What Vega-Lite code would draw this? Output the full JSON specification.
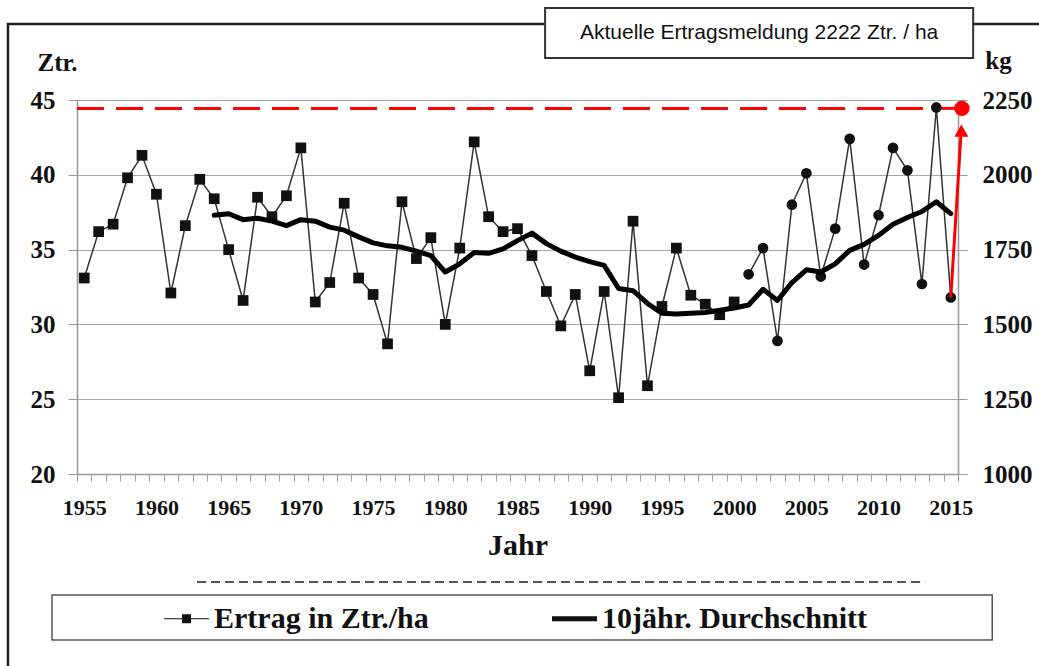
{
  "$schema": "https://vega.github.io/schema/vega-lite/v6.json",
  "width": 881,
  "height": 374,
  "autosize": {"type": "none"},
  "padding": {"left": 77, "top": 100, "right": 81, "bottom": 192},
  "background": "white",
  "config": {"view": {"stroke": null}},
  "datasets": {
    "ertrag": [
      {"Jahr": 1955, "Ertrag": 33.1, "Reihe": "A"},
      {"Jahr": 1956, "Ertrag": 36.2, "Reihe": "A"},
      {"Jahr": 1957, "Ertrag": 36.7, "Reihe": "A"},
      {"Jahr": 1958, "Ertrag": 39.8, "Reihe": "A"},
      {"Jahr": 1959, "Ertrag": 41.3, "Reihe": "A"},
      {"Jahr": 1960, "Ertrag": 38.7, "Reihe": "A"},
      {"Jahr": 1961, "Ertrag": 32.1, "Reihe": "A"},
      {"Jahr": 1962, "Ertrag": 36.6, "Reihe": "A"},
      {"Jahr": 1963, "Ertrag": 39.7, "Reihe": "A"},
      {"Jahr": 1964, "Ertrag": 38.4, "Reihe": "A"},
      {"Jahr": 1965, "Ertrag": 35.0, "Reihe": "A"},
      {"Jahr": 1966, "Ertrag": 31.6, "Reihe": "A"},
      {"Jahr": 1967, "Ertrag": 38.5, "Reihe": "A"},
      {"Jahr": 1968, "Ertrag": 37.2, "Reihe": "A"},
      {"Jahr": 1969, "Ertrag": 38.6, "Reihe": "A"},
      {"Jahr": 1970, "Ertrag": 41.8, "Reihe": "A"},
      {"Jahr": 1971, "Ertrag": 31.5, "Reihe": "A"},
      {"Jahr": 1972, "Ertrag": 32.8, "Reihe": "A"},
      {"Jahr": 1973, "Ertrag": 38.1, "Reihe": "A"},
      {"Jahr": 1974, "Ertrag": 33.1, "Reihe": "A"},
      {"Jahr": 1975, "Ertrag": 32.0, "Reihe": "A"},
      {"Jahr": 1976, "Ertrag": 28.7, "Reihe": "A"},
      {"Jahr": 1977, "Ertrag": 38.2, "Reihe": "A"},
      {"Jahr": 1978, "Ertrag": 34.4, "Reihe": "A"},
      {"Jahr": 1979, "Ertrag": 35.8, "Reihe": "A"},
      {"Jahr": 1980, "Ertrag": 30.0, "Reihe": "A"},
      {"Jahr": 1981, "Ertrag": 35.1, "Reihe": "A"},
      {"Jahr": 1982, "Ertrag": 42.2, "Reihe": "A"},
      {"Jahr": 1983, "Ertrag": 37.2, "Reihe": "A"},
      {"Jahr": 1984, "Ertrag": 36.2, "Reihe": "A"},
      {"Jahr": 1985, "Ertrag": 36.4, "Reihe": "A"},
      {"Jahr": 1986, "Ertrag": 34.6, "Reihe": "A"},
      {"Jahr": 1987, "Ertrag": 32.2, "Reihe": "A"},
      {"Jahr": 1988, "Ertrag": 29.9, "Reihe": "A"},
      {"Jahr": 1989, "Ertrag": 32.0, "Reihe": "A"},
      {"Jahr": 1990, "Ertrag": 26.9, "Reihe": "A"},
      {"Jahr": 1991, "Ertrag": 32.2, "Reihe": "A"},
      {"Jahr": 1992, "Ertrag": 25.1, "Reihe": "A"},
      {"Jahr": 1993, "Ertrag": 36.9, "Reihe": "A"},
      {"Jahr": 1994, "Ertrag": 25.9, "Reihe": "A"},
      {"Jahr": 1995, "Ertrag": 31.2, "Reihe": "A"},
      {"Jahr": 1996, "Ertrag": 35.1, "Reihe": "A"},
      {"Jahr": 1997, "Ertrag": 31.95, "Reihe": "A"},
      {"Jahr": 1998, "Ertrag": 31.35, "Reihe": "A"},
      {"Jahr": 1999, "Ertrag": 30.65, "Reihe": "A"},
      {"Jahr": 2000, "Ertrag": 31.5, "Reihe": "A"},
      {"Jahr": 2001, "Ertrag": 33.35, "Reihe": "B"},
      {"Jahr": 2002, "Ertrag": 35.1, "Reihe": "B"},
      {"Jahr": 2003, "Ertrag": 28.9, "Reihe": "B"},
      {"Jahr": 2004, "Ertrag": 38.0, "Reihe": "B"},
      {"Jahr": 2005, "Ertrag": 40.1, "Reihe": "B"},
      {"Jahr": 2006, "Ertrag": 33.2, "Reihe": "B"},
      {"Jahr": 2007, "Ertrag": 36.4, "Reihe": "B"},
      {"Jahr": 2008, "Ertrag": 42.4, "Reihe": "B"},
      {"Jahr": 2009, "Ertrag": 34.0, "Reihe": "B"},
      {"Jahr": 2010, "Ertrag": 37.3, "Reihe": "B"},
      {"Jahr": 2011, "Ertrag": 41.8, "Reihe": "B"},
      {"Jahr": 2012, "Ertrag": 40.3, "Reihe": "B"},
      {"Jahr": 2013, "Ertrag": 32.7, "Reihe": "B"},
      {"Jahr": 2014, "Ertrag": 44.5, "Reihe": "B"},
      {"Jahr": 2015, "Ertrag": 31.8, "Reihe": "B"}
    ],
    "mittel": [
      {"Jahr": 1964, "Mittel": 37.3},
      {"Jahr": 1965, "Mittel": 37.4},
      {"Jahr": 1966, "Mittel": 37.0},
      {"Jahr": 1967, "Mittel": 37.1},
      {"Jahr": 1968, "Mittel": 36.9},
      {"Jahr": 1969, "Mittel": 36.6},
      {"Jahr": 1970, "Mittel": 37.0},
      {"Jahr": 1971, "Mittel": 36.9},
      {"Jahr": 1972, "Mittel": 36.5},
      {"Jahr": 1973, "Mittel": 36.3},
      {"Jahr": 1974, "Mittel": 35.85},
      {"Jahr": 1975, "Mittel": 35.45},
      {"Jahr": 1976, "Mittel": 35.25},
      {"Jahr": 1977, "Mittel": 35.15},
      {"Jahr": 1978, "Mittel": 34.9},
      {"Jahr": 1979, "Mittel": 34.6},
      {"Jahr": 1980, "Mittel": 33.5},
      {"Jahr": 1981, "Mittel": 34.05},
      {"Jahr": 1982, "Mittel": 34.8},
      {"Jahr": 1983, "Mittel": 34.75},
      {"Jahr": 1984, "Mittel": 35.05},
      {"Jahr": 1985, "Mittel": 35.6},
      {"Jahr": 1986, "Mittel": 36.1},
      {"Jahr": 1987, "Mittel": 35.4},
      {"Jahr": 1988, "Mittel": 34.9},
      {"Jahr": 1989, "Mittel": 34.5},
      {"Jahr": 1990, "Mittel": 34.2},
      {"Jahr": 1991, "Mittel": 33.95},
      {"Jahr": 1992, "Mittel": 32.4},
      {"Jahr": 1993, "Mittel": 32.25},
      {"Jahr": 1994, "Mittel": 31.4},
      {"Jahr": 1995, "Mittel": 30.75},
      {"Jahr": 1996, "Mittel": 30.7},
      {"Jahr": 1997, "Mittel": 30.75},
      {"Jahr": 1998, "Mittel": 30.8},
      {"Jahr": 1999, "Mittel": 30.95},
      {"Jahr": 2000, "Mittel": 31.1},
      {"Jahr": 2001, "Mittel": 31.3},
      {"Jahr": 2002, "Mittel": 32.35},
      {"Jahr": 2003, "Mittel": 31.6},
      {"Jahr": 2004, "Mittel": 32.8},
      {"Jahr": 2005, "Mittel": 33.65},
      {"Jahr": 2006, "Mittel": 33.5},
      {"Jahr": 2007, "Mittel": 34.05},
      {"Jahr": 2008, "Mittel": 34.95},
      {"Jahr": 2009, "Mittel": 35.35},
      {"Jahr": 2010, "Mittel": 35.95},
      {"Jahr": 2011, "Mittel": 36.7},
      {"Jahr": 2012, "Mittel": 37.15},
      {"Jahr": 2013, "Mittel": 37.55},
      {"Jahr": 2014, "Mittel": 38.2},
      {"Jahr": 2015, "Mittel": 37.4}
    ],
    "legende": [
      {"Serie": "Ertrag in Ztr./ha"},
      {"Serie": "10jähr. Durchschnitt"}
    ]
  },
  "resolve": {
    "scale": {"shape": "independent"},
    "axis": {"x": "independent", "y": "independent"}
  },
  "layer": [
    {
      "data": {"values": [{}]},
      "mark": {"type": "rect", "filled": false, "stroke": "#222", "strokeWidth": 2.5, "clip": false},
      "encoding": {
        "x": {"datum": 1949.72, "type": "quantitative", "scale": {"domain": [1954.5, 2015.5], "nice": false, "zero": false}, "axis": null},
        "x2": {"datum": 2030},
        "y": {"datum": 50.08, "type": "quantitative", "scale": {"domain": [20, 45], "nice": false, "zero": false}, "axis": null},
        "y2": {"datum": -10}
      }
    },
    {
      "data": {"values": [{}]},
      "mark": {"type": "rect", "fill": "white", "stroke": "#333", "strokeWidth": 2, "clip": false},
      "encoding": {
        "x": {"datum": 1986.91, "type": "quantitative", "axis": null},
        "x2": {"datum": 2016.55},
        "y": {"datum": 51.15, "type": "quantitative", "axis": null},
        "y2": {"datum": 47.81}
      }
    },
    {
      "data": {"values": [{}]},
      "mark": {"type": "text", "text": "Aktuelle Ertragsmeldung 2222 Ztr. / ha", "font": "Liberation Sans", "fontSize": 21, "color": "#111", "align": "center", "baseline": "middle", "clip": false},
      "encoding": {
        "x": {"datum": 2001.73, "type": "quantitative", "axis": null},
        "y": {"datum": 49.48, "type": "quantitative", "axis": null}
      }
    },
    {
      "data": {"values": [{}]},
      "mark": {"type": "rule", "stroke": "#555", "strokeWidth": 2, "strokeDash": [9, 5], "clip": false},
      "encoding": {
        "x": {"datum": 1962.81, "type": "quantitative", "axis": null},
        "x2": {"datum": 2013.23},
        "y": {"datum": 12.78, "type": "quantitative", "axis": null}
      }
    },
    {
      "data": {"values": [{}]},
      "mark": {"type": "rect", "filled": false, "stroke": "#555", "strokeWidth": 1.5, "clip": false},
      "encoding": {
        "x": {"datum": 1952.77, "type": "quantitative", "axis": null},
        "x2": {"datum": 2017.87},
        "y": {"datum": 11.91, "type": "quantitative", "axis": null},
        "y2": {"datum": 8.9}
      }
    },
    {
      "data": {"values": [{}]},
      "mark": {"type": "rule", "stroke": "#ff0000", "strokeWidth": 3, "strokeDash": [27, 12], "clip": false},
      "encoding": {
        "x": {"datum": 1954.5, "type": "quantitative", "axis": null},
        "x2": {"datum": 2013.9},
        "y": {"datum": 44.44, "type": "quantitative", "axis": null}
      }
    },
    {
      "data": {"values": [{}]},
      "mark": {"type": "rule", "stroke": "#ff0000", "strokeWidth": 3, "clip": false},
      "encoding": {
        "x": {"datum": 2013.9, "type": "quantitative", "axis": null},
        "x2": {"datum": 2015.77},
        "y": {"datum": 44.44, "type": "quantitative", "axis": null}
      }
    },
    {
      "data": {"name": "ertrag"},
      "mark": {"type": "line", "stroke": "#333", "strokeWidth": 1.5},
      "encoding": {
        "x": {
          "field": "Jahr", "type": "quantitative",
          "axis": {
            "orient": "bottom", "values": [1955, 1960, 1965, 1970, 1975, 1980, 1985, 1990, 1995, 2000, 2005, 2010, 2015],
            "format": "d", "ticks": false, "tickSize": 0, "labelPadding": 23, "grid": false,
            "domainColor": "#999", "domainWidth": 1.5, "labelFlush": false, "labelOverlap": false, "labelBound": false,
            "labelFont": "Liberation Serif", "labelFontWeight": "bold", "labelFontSize": 22, "labelColor": "#111",
            "title": "Jahr", "titleFont": "Liberation Serif", "titleFontWeight": "bold", "titleFontSize": 30, "titleColor": "#111",
            "titleY": 71, "titleBaseline": "middle"
          }
        },
        "y": {
          "field": "Ertrag", "type": "quantitative",
          "axis": {
            "orient": "left", "values": [20, 25, 30, 35, 40, 45], "grid": true, "gridColor": "#a6a6a6", "gridWidth": 1,
            "domainColor": "#999", "domainWidth": 1.5, "tickColor": "#999", "tickSize": 9, "labelPadding": 13,
            "labelFont": "Liberation Serif", "labelFontWeight": "bold", "labelFontSize": 25, "labelColor": "#111",
            "title": "Ztr.", "titleAngle": 0, "titleX": -20, "titleY": -38, "titleAlign": "center", "titleBaseline": "middle",
            "titleFont": "Liberation Serif", "titleFontSize": 25, "titleFontWeight": "bold", "titleColor": "#111"
          }
        },
        "detail": {"field": "Reihe", "type": "nominal"}
      }
    },
    {
      "data": {"name": "ertrag"},
      "mark": {"type": "point", "filled": true, "color": "#111", "size": 115, "opacity": 1},
      "encoding": {
        "x": {"field": "Jahr", "type": "quantitative", "axis": null},
        "y": {"field": "Ertrag", "type": "quantitative", "axis": null},
        "shape": {"field": "Reihe", "type": "nominal", "scale": {"domain": ["A", "B"], "range": ["square", "circle"]}, "legend": null}
      }
    },
    {
      "data": {"name": "mittel"},
      "mark": {"type": "line", "stroke": "#000", "strokeWidth": 5, "strokeJoin": "round", "strokeCap": "round"},
      "encoding": {
        "x": {
          "field": "Jahr", "type": "quantitative",
          "axis": {
            "orient": "bottom",
            "values": [1954.5, 1955.5, 1956.5, 1957.5, 1958.5, 1959.5, 1960.5, 1961.5, 1962.5, 1963.5, 1964.5, 1965.5, 1966.5, 1967.5, 1968.5, 1969.5, 1970.5, 1971.5, 1972.5, 1973.5, 1974.5, 1975.5, 1976.5, 1977.5, 1978.5, 1979.5, 1980.5, 1981.5, 1982.5, 1983.5, 1984.5, 1985.5, 1986.5, 1987.5, 1988.5, 1989.5, 1990.5, 1991.5, 1992.5, 1993.5, 1994.5, 1995.5, 1996.5, 1997.5, 1998.5, 1999.5, 2000.5, 2001.5, 2002.5, 2003.5, 2004.5, 2005.5, 2006.5, 2007.5, 2008.5, 2009.5, 2010.5, 2011.5, 2012.5, 2013.5, 2014.5, 2015.5],
            "labels": false, "ticks": true, "tickSize": 7, "tickColor": "#999", "tickWidth": 1, "domain": false, "grid": false, "title": null
          }
        },
        "y": {
          "field": "Mittel", "type": "quantitative",
          "axis": {
            "orient": "right", "values": [20, 25, 30, 35, 40, 45], "grid": false,
            "labelExpr": "format(datum.value * 50, 'd')",
            "domainColor": "#999", "domainWidth": 1.5, "tickColor": "#999", "tickSize": 9, "labelPadding": 15,
            "labelFont": "Liberation Serif", "labelFontWeight": "bold", "labelFontSize": 25, "labelColor": "#111",
            "title": "kg", "titleAngle": 0, "titleX": 40, "titleY": -40, "titleAlign": "center", "titleBaseline": "middle",
            "titleFont": "Liberation Serif", "titleFontSize": 25, "titleFontWeight": "bold", "titleColor": "#111"
          }
        }
      }
    },
    {
      "data": {"values": [{}]},
      "mark": {"type": "rule", "stroke": "#ff0000", "strokeWidth": 3, "clip": false},
      "encoding": {
        "x": {"datum": 2015, "type": "quantitative", "axis": null},
        "x2": {"datum": 2015.72},
        "y": {"datum": 31.8, "type": "quantitative", "axis": null},
        "y2": {"datum": 42.9}
      }
    },
    {
      "data": {"values": [{}]},
      "mark": {"type": "point", "shape": "triangle-up", "filled": true, "color": "#ff0000", "size": 200, "opacity": 1, "clip": false},
      "encoding": {
        "x": {"datum": 2015.73, "type": "quantitative", "axis": null},
        "y": {"datum": 42.95, "type": "quantitative", "axis": null}
      }
    },
    {
      "data": {"values": [{}]},
      "mark": {"type": "point", "shape": "circle", "filled": true, "color": "#ff0000", "size": 240, "opacity": 1, "clip": false},
      "encoding": {
        "x": {"datum": 2015.77, "type": "quantitative", "axis": null},
        "y": {"datum": 44.44, "type": "quantitative", "axis": null}
      }
    },
    {
      "data": {"name": "legende"},
      "mark": {"type": "point", "filled": true, "color": "#111", "stroke": "#111", "strokeWidth": 1.5, "opacity": 0},
      "encoding": {
        "shape": {
          "field": "Serie", "type": "nominal",
          "scale": {
            "domain": ["Ertrag in Ztr./ha", "10jähr. Durchschnitt"],
            "range": ["M-1,-0.025H1V0.025H-1Z M-0.2,-0.2H0.2V0.2H-0.2Z", "M-1,-0.11H1V0.11H-1Z"]
          },
          "legend": {
            "title": null, "orient": "none", "legendX": 86, "legendY": 495, "direction": "horizontal",
            "symbolSize": 2025, "symbolFillColor": "#111", "symbolStrokeColor": "#111", "symbolStrokeWidth": 1.5, "symbolOpacity": 1,
            "labelFont": "Liberation Serif", "labelFontWeight": "bold", "labelFontSize": 30, "labelColor": "#111",
            "labelOffset": 4, "labelLimit": 500, "columnPadding": 120, "padding": 0
          }
        }
      }
    }
  ]
}
